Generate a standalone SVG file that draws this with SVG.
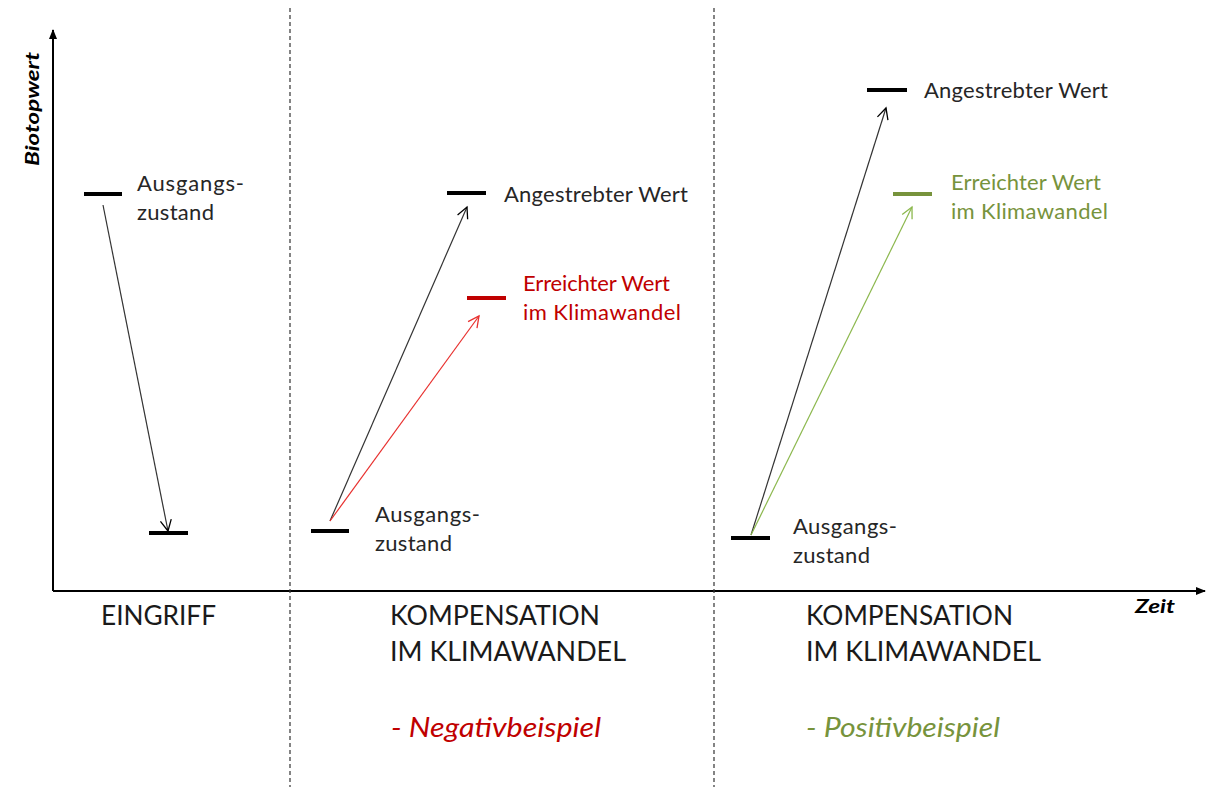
<svg xmlns="http://www.w3.org/2000/svg" width="1212" height="787" viewBox="0 0 1212 787">
  <style>
    .t { font-family: Lato, "Liberation Sans", sans-serif; font-size: 22px; fill: #262626; }
    .h { font-family: Lato, "Liberation Sans", sans-serif; font-size: 26px; fill: #1a1a1a; }
    .ax { font-family: Lato, "Liberation Sans", sans-serif; font-size: 19px; font-weight: bold; font-style: italic; fill: #000; }
    .sub { font-family: Lato, "Liberation Sans", sans-serif; font-size: 27px; font-style: italic; }
    .bar { stroke: #000; stroke-width: 4; }
    .axis { stroke: #000; stroke-width: 2; fill: none; }
    .div { stroke: #333; stroke-width: 1.2; stroke-dasharray: 4 3; }
    .red { fill: #c00000; }
    .green { fill: #77933c; }
  </style>
  <defs>
    <marker id="axhead" markerWidth="10" markerHeight="10" refX="9" refY="5" orient="auto" markerUnits="userSpaceOnUse">
      <path d="M0,1 L10,5 L0,9 Z" fill="#000"/>
    </marker>
    <marker id="openK" markerWidth="14" markerHeight="14" refX="12" refY="7" orient="auto" markerUnits="userSpaceOnUse">
      <path d="M1,1.5 L12,7 L1,12.5" fill="none" stroke="#000" stroke-width="1.3"/>
    </marker>
    <marker id="openR" markerWidth="14" markerHeight="14" refX="12" refY="7" orient="auto" markerUnits="userSpaceOnUse">
      <path d="M1,1.5 L12,7 L1,12.5" fill="none" stroke="#e8302e" stroke-width="1.3"/>
    </marker>
    <marker id="openG" markerWidth="14" markerHeight="14" refX="12" refY="7" orient="auto" markerUnits="userSpaceOnUse">
      <path d="M1,1.5 L12,7 L1,12.5" fill="none" stroke="#8cb84e" stroke-width="1.3"/>
    </marker>
  </defs>
  <rect width="1212" height="787" fill="#fff"/>

  <!-- axes -->
  <g id="axes">
    <line class="axis" x1="53" y1="591" x2="53" y2="30" marker-end="url(#axhead)"/>
    <line class="axis" x1="53" y1="591" x2="1205" y2="591" marker-end="url(#axhead)"/>
    <text class="ax" transform="translate(39,109) rotate(-90)" text-anchor="middle" textLength="114" lengthAdjust="spacingAndGlyphs">Biotopwert</text>
    <text class="ax" x="1135" y="613" textLength="40" lengthAdjust="spacingAndGlyphs">Zeit</text>
  </g>

  <!-- section dividers -->
  <g id="dividers">
    <line class="div" x1="290" y1="8" x2="290" y2="787"/>
    <line class="div" x1="714" y1="8" x2="714" y2="787"/>
  </g>

  <!-- connectors -->
  <g id="connectors" fill="none" stroke-width="1.2">
    <line x1="103" y1="205" x2="168" y2="531" stroke="#333" marker-end="url(#openK)"/>
    <line x1="330" y1="521" x2="467" y2="207" stroke="#333" marker-end="url(#openK)"/>
    <line x1="330" y1="521" x2="479" y2="316" stroke="#e8302e" marker-end="url(#openR)"/>
    <line x1="751" y1="535" x2="886" y2="108" stroke="#333" marker-end="url(#openK)"/>
    <line x1="751" y1="535" x2="912" y2="207" stroke="#8cb84e" marker-end="url(#openG)"/>
  </g>

  <!-- section 1: Eingriff -->
  <g id="eingriff-start">
    <line class="bar" x1="84" y1="194" x2="122" y2="194"/>
    <text class="t" x="137" y="191" textLength="107">Ausgangs-</text>
    <text class="t" x="137" y="220" textLength="77">zustand</text>
  </g>
  <g id="eingriff-end">
    <line class="bar" x1="149" y1="533" x2="188" y2="533"/>
  </g>
  <g id="eingriff-label">
    <text class="h" x="101" y="625" textLength="115" lengthAdjust="spacingAndGlyphs">EINGRIFF</text>
  </g>

  <!-- section 2: negative example -->
  <g id="neg-target">
    <line class="bar" x1="447" y1="193" x2="486" y2="193"/>
    <text class="t" x="504" y="202" textLength="184">Angestrebter Wert</text>
  </g>
  <g id="neg-reached">
    <line class="bar" x1="467" y1="298" x2="506" y2="298" style="stroke:#c00000"/>
    <text class="t red" x="523" y="291" textLength="147">Erreichter Wert</text>
    <text class="t red" x="523" y="320" textLength="158">im Klimawandel</text>
  </g>
  <g id="neg-start">
    <line class="bar" x1="311" y1="531" x2="349" y2="531"/>
    <text class="t" x="375" y="522" textLength="105">Ausgangs-</text>
    <text class="t" x="375" y="551" textLength="77">zustand</text>
  </g>
  <g id="neg-label">
    <text class="h" x="390" y="625" textLength="210" lengthAdjust="spacingAndGlyphs">KOMPENSATION</text>
    <text class="h" x="390" y="661" textLength="236" lengthAdjust="spacingAndGlyphs">IM KLIMAWANDEL</text>
    <text class="sub red" x="391" y="737" textLength="210" lengthAdjust="spacingAndGlyphs">- Negativbeispiel</text>
  </g>

  <!-- section 3: positive example -->
  <g id="pos-target">
    <line class="bar" x1="867" y1="90" x2="907" y2="90"/>
    <text class="t" x="924" y="98" textLength="184">Angestrebter Wert</text>
  </g>
  <g id="pos-reached">
    <line class="bar" x1="893" y1="194" x2="932" y2="194" style="stroke:#77933c"/>
    <text class="t green" x="951" y="190" textLength="150">Erreichter Wert</text>
    <text class="t green" x="951" y="219" textLength="157">im Klimawandel</text>
  </g>
  <g id="pos-start">
    <line class="bar" x1="731" y1="538" x2="770" y2="538"/>
    <text class="t" x="793" y="534" textLength="104">Ausgangs-</text>
    <text class="t" x="793" y="563" textLength="77">zustand</text>
  </g>
  <g id="pos-label">
    <text class="h" x="806" y="625" textLength="207" lengthAdjust="spacingAndGlyphs">KOMPENSATION</text>
    <text class="h" x="806" y="661" textLength="235" lengthAdjust="spacingAndGlyphs">IM KLIMAWANDEL</text>
    <text class="sub green" x="806" y="737" textLength="194" lengthAdjust="spacingAndGlyphs">- Positivbeispiel</text>
  </g>
</svg>
